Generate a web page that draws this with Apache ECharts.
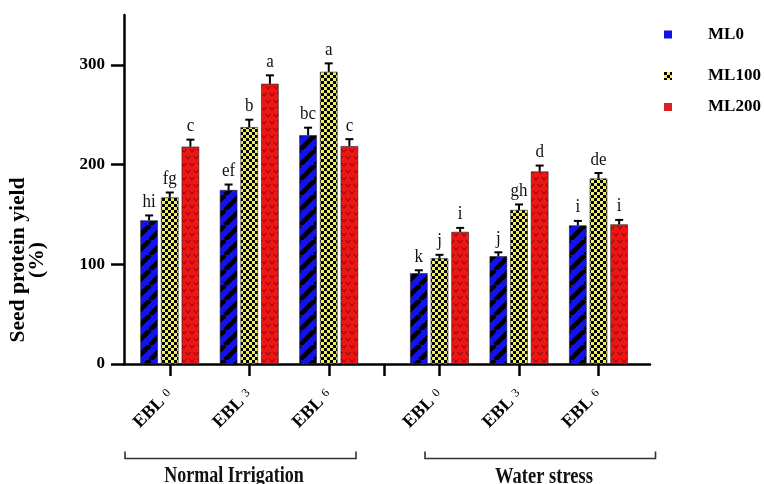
<!DOCTYPE html>
<html>
<head>
<meta charset="utf-8">
<script src="https://cdn.jsdelivr.net/npm/echarts@6.0.0/dist/echarts.min.js"></script>
<style>
  html, body { margin: 0; padding: 0; background: #fff; }
  #chart { width: 764px; height: 484px; }
</style>
</head>
<body>
<div id="chart"></div>
<script>
// ---- data ----
const doses = ['0', '3', '6'];
const seriesNames = ['ML0', 'ML100', 'ML200'];
const groupNames = ['Normal Irrigation', 'Water stress'];
const yTicks = [0, 100, 200, 300];

const normalML0 = [144, 174.5, 229.5];
const normalML100 = [167, 237.5, 293];
const normalML200 = [218, 281, 218.5];
const normalErrML0 = [5, 5.5, 7.5];
const normalErrML100 = [5, 7.5, 8.5];
const normalErrML200 = [7, 8.5, 7];
const normalLetML0 = ['hi', 'ef', 'bc'];
const normalLetML100 = ['fg', 'b', 'a'];
const normalLetML200 = ['c', 'a', 'c'];

const stressML0 = [91, 108, 139];
const stressML100 = [106, 154.5, 186];
const stressML200 = [132.5, 193, 140];
const stressErrML0 = [3, 4, 4.5];
const stressErrML100 = [3.5, 5.5, 5.5];
const stressErrML200 = [4, 6, 4.5];
const stressLetML0 = ['k', 'j', 'i'];
const stressLetML100 = ['j', 'gh', 'de'];
const stressLetML200 = ['i', 'd', 'i'];

// ---- fill patterns ----
function stripeTile() {
  const c = document.createElement('canvas');
  const s = 15; c.width = s; c.height = s;
  const g = c.getContext('2d');
  g.fillStyle = '#1212ee'; g.fillRect(0, 0, s, s);
  g.strokeStyle = '#000'; g.lineWidth = 4.6;
  for (const o of [-s, 0, s]) {
    g.beginPath(); g.moveTo(o, s); g.lineTo(o + s, 0); g.stroke();
  }
  return c;
}
function checkerTile() {
  const c = document.createElement('canvas');
  c.width = 6; c.height = 6;
  const g = c.getContext('2d');
  g.fillStyle = '#f2ee55'; g.fillRect(0, 0, 6, 6);
  g.fillStyle = '#000'; g.fillRect(0, 0, 3, 3); g.fillRect(3, 3, 3, 3);
  return c;
}
function chevronTile() {
  const c = document.createElement('canvas');
  c.width = 8; c.height = 14;
  const g = c.getContext('2d');
  g.fillStyle = '#ee1515'; g.fillRect(0, 0, 8, 14);
  g.strokeStyle = '#8a0a0a'; g.lineWidth = 1.1;
  const v = (x, y) => { g.beginPath(); g.moveTo(x - 2.5, y - 2); g.lineTo(x, y + 1); g.lineTo(x + 2.5, y - 2); g.stroke(); };
  v(4, 4); v(0, 11); v(8, 11);
  return c;
}
const fills = [
  { image: stripeTile(), repeat: 'repeat' },
  { image: checkerTile(), repeat: 'repeat' },
  { image: chevronTile(), repeat: 'repeat' }
];
const legendColors = ['#1212e6', { image: checkerTile(), repeat: 'repeat' }, '#e02020'];

// ---- layout constants ----
const SERIF = '"Liberation Serif", "Times New Roman", serif';
const BAR_W = 17.5, BAR_GAP = 0.18, PITCH = BAR_W * (1 + BAR_GAP), CAP = 4;
const AXIS_W = 2.5;
const TOP = 15, BOTTOM = 120;

const groups = [
  { vals: [normalML0, normalML100, normalML200], errs: [normalErrML0, normalErrML100, normalErrML200], lets: [normalLetML0, normalLetML100, normalLetML200], axis: 1 },
  { vals: [stressML0, stressML100, stressML200], errs: [stressErrML0, stressErrML100, stressErrML200], lets: [stressLetML0, stressLetML100, stressLetML200], axis: 3 }
];

const chart = echarts.init(document.getElementById('chart'), null, { renderer: 'canvas' });

const catAxis = (gridIndex) => ({
  type: 'category', gridIndex, data: doses.map(d => 'EBL ' + d),
  axisLine: { show: false },
  axisTick: { show: true, alignWithLabel: true, length: 12, lineStyle: { color: '#000', width: AXIS_W } },
  axisLabel: {
    interval: 0, rotate: 45, margin: 28,
    formatter: (v) => '{b|EBL}{s|' + v.split(' ')[1] + '}',
    rich: {
      b: { fontFamily: SERIF, fontWeight: 'bold', fontSize: 18, color: '#000' },
      s: { fontFamily: SERIF, fontSize: 12, color: '#000', padding: [0, 0, 3, 5] }
    }
  },
  splitLine: { show: false }
});
const hiddenY = (gridIndex) => ({
  type: 'value', gridIndex, min: 0, max: 350, show: false, splitLine: { show: false }
});

const series = [];
groups.forEach((grp) => {
  grp.vals.forEach((vals, s) => {
    series.push({
      type: 'bar', name: seriesNames[s], xAxisIndex: grp.axis, yAxisIndex: grp.axis,
      data: vals, barWidth: BAR_W, barGap: (BAR_GAP * 100) + '%',
      itemStyle: { color: fills[s], borderColor: '#222', borderWidth: 0.6 },
      emphasis: { disabled: true }
    });
  });
  const errData = [], letters = [];
  grp.vals.forEach((vals, s) => vals.forEach((v, i) => {
    errData.push([i, s, v, grp.errs[s][i]]);
    letters.push(grp.lets[s][i]);
  }));
  series.push({
    type: 'custom', xAxisIndex: grp.axis, yAxisIndex: grp.axis, z: 5, silent: true,
    data: errData,
    renderItem: (params, api) => {
      const cat = api.value(0), s = api.value(1), v = api.value(2), e = api.value(3);
      const base = api.coord([cat, v]);
      const top = api.coord([cat, v + e]);
      const x = base[0] + (s - 1) * PITCH;
      return {
        type: 'group', children: [
          { type: 'line', shape: { x1: x, y1: base[1], x2: x, y2: top[1] }, style: { stroke: '#000', lineWidth: 2 } },
          { type: 'line', shape: { x1: x - CAP, y1: top[1], x2: x + CAP, y2: top[1] }, style: { stroke: '#000', lineWidth: 2 } },
          { type: 'text', x: x, y: top[1] - 4, scaleY: 1.1,
            style: { text: letters[params.dataIndex], x: 0, y: 0, align: 'center', verticalAlign: 'bottom', fontFamily: SERIF, fontSize: 17, fill: '#111' } }
        ]
      };
    }
  });
});

const legendItem = (i, top) => ({
  data: [{ name: seriesNames[i], itemStyle: { color: legendColors[i], borderWidth: 0 } }],
  left: 659, top, orient: 'vertical', icon: 'rect', itemWidth: 8, itemHeight: 8,
  selectedMode: false,
  textStyle: { fontFamily: SERIF, fontWeight: 'bold', fontSize: 17, color: '#000', lineHeight: 18, padding: [0, 0, 0, 31] }
});

const option = {
  animation: false,
  backgroundColor: '#fff',
  grid: [
    { left: 124, right: 114, top: TOP, bottom: BOTTOM },
    { left: 130, width: 238.5, top: TOP, bottom: BOTTOM },
    { left: 368.5, width: 31.25, top: TOP, bottom: BOTTOM },
    { left: 399.75, width: 238.5, top: TOP, bottom: BOTTOM }
  ],
  xAxis: [
    { type: 'value', gridIndex: 0, min: 0, max: 1,
      axisLine: { show: true, lineStyle: { color: '#000', width: AXIS_W } },
      axisTick: { show: false }, axisLabel: { show: false }, splitLine: { show: false } },
    catAxis(1),
    { type: 'category', gridIndex: 2, data: [''], axisLine: { show: false },
      axisTick: { show: true, alignWithLabel: true, length: 12, lineStyle: { color: '#000', width: AXIS_W } },
      axisLabel: { show: false } },
    catAxis(3)
  ],
  yAxis: [
    { type: 'value', gridIndex: 0, min: 0, max: 350, interval: 100,
      axisLine: { show: true, lineStyle: { color: '#000', width: AXIS_W } },
      axisTick: { show: true, length: 13, customValues: yTicks, lineStyle: { color: '#000', width: AXIS_W } },
      axisLabel: { customValues: yTicks, margin: 19, fontFamily: SERIF, fontWeight: 'bold', fontSize: 17, color: '#000' },
      splitLine: { show: false } },
    hiddenY(1), hiddenY(2), hiddenY(3)
  ],
  legend: [legendItem(0, 20.5), legendItem(1, 62), legendItem(2, 93)],
  series,
  graphic: [
    { type: 'text', x: 28, y: 260, rotation: Math.PI / 2, scaleX: 1.08,
      style: { text: 'Seed protein yield\n(%)', align: 'center', verticalAlign: 'middle', lineHeight: 19,
        fontFamily: SERIF, fontWeight: 'bold', fontSize: 20, fill: '#000' } },
    { type: 'polyline', shape: { points: [[125, 451.5], [125, 458.5], [356, 458.5], [356, 451.5]] },
      style: { stroke: '#333', lineWidth: 1.6, fill: null } },
    { type: 'polyline', shape: { points: [[425, 451.5], [425, 458.5], [655.5, 458.5], [655.5, 451.5]] },
      style: { stroke: '#333', lineWidth: 1.6, fill: null } },
    { type: 'text', x: 234, y: 465, scaleY: 1.25,
      style: { text: groupNames[0], align: 'center', verticalAlign: 'top', fontFamily: SERIF, fontWeight: 'bold', fontSize: 18, fill: '#111' } },
    { type: 'text', x: 544, y: 465, scaleY: 1.25,
      style: { text: groupNames[1], align: 'center', verticalAlign: 'top', fontFamily: SERIF, fontWeight: 'bold', fontSize: 18.5, fill: '#111' } }
  ]
};
chart.setOption(option);
</script>
</body>
</html>
